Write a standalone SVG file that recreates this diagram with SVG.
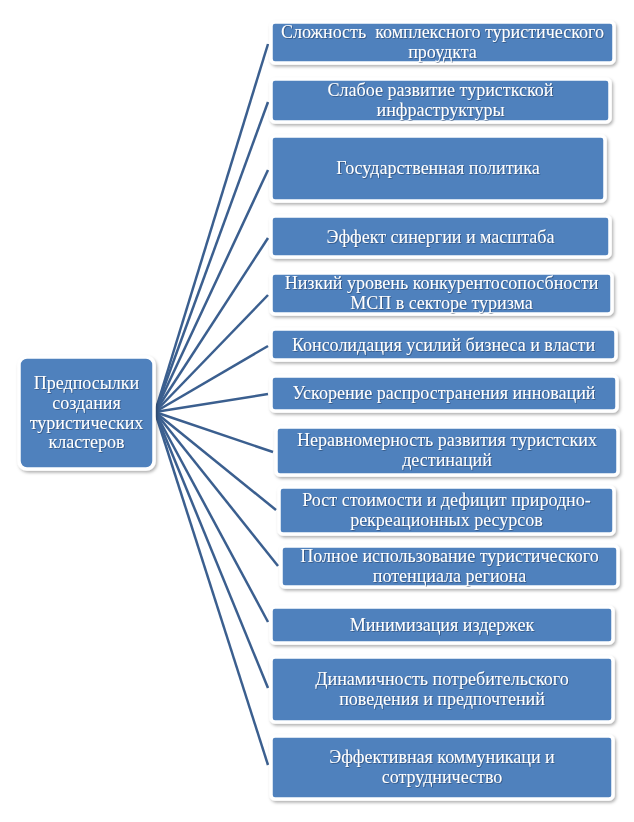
<svg xmlns="http://www.w3.org/2000/svg" width="634" height="822" viewBox="0 0 634 822">
<defs>
<filter id="sh" x="-10%" y="-20%" width="120%" height="150%">
<feDropShadow dx="1.5" dy="2" stdDeviation="1.5" flood-color="#000" flood-opacity="0.3"/>
</filter>
<filter id="ts" x="-5%" y="-20%" width="110%" height="140%">
<feDropShadow dx="0.8" dy="0.8" stdDeviation="0.6" flood-color="#1d3557" flood-opacity="0.6"/>
</filter>
</defs>
<style>
.b{fill:#4f81bd;stroke:#ffffff;stroke-width:3.5;filter:url(#sh)}
.t{fill:#ffffff;font-family:'Liberation Serif','DejaVu Serif',serif;font-size:18px;text-anchor:middle;white-space:pre;filter:url(#ts)}
.l{stroke:#3b5f8f;stroke-width:2.5;fill:none}
</style>
<rect width="634" height="822" fill="#ffffff"/>
<g id="connectors">
<line class="l" x1="155" y1="412" x2="268" y2="44"/>
<line class="l" x1="155" y1="412" x2="268" y2="102"/>
<line class="l" x1="155" y1="412" x2="268" y2="170"/>
<line class="l" x1="155" y1="412" x2="268" y2="238"/>
<line class="l" x1="155" y1="412" x2="268" y2="295"/>
<line class="l" x1="155" y1="412" x2="268" y2="346"/>
<line class="l" x1="155" y1="412" x2="268" y2="394"/>
<line class="l" x1="155" y1="412" x2="273" y2="452"/>
<line class="l" x1="155" y1="412" x2="276" y2="510"/>
<line class="l" x1="155" y1="412" x2="278" y2="566"/>
<line class="l" x1="155" y1="412" x2="268" y2="622"/>
<line class="l" x1="155" y1="412" x2="268" y2="688"/>
<line class="l" x1="155" y1="412" x2="268" y2="765"/>
</g>
<g id="center">
<rect class="b" x="19" y="357" width="135" height="112" rx="8"/>
<text class="t" x="86.5" y="389">Предпосылки</text>
<text class="t" x="86.5" y="409">создания</text>
<text class="t" x="86.5" y="429">туристических</text>
<text class="t" x="86.5" y="448">кластеров</text>
</g>
<g id="n1">
<rect class="b" x="271" y="22" width="343" height="41" rx="4"/>
<text class="t" x="442.5" y="38">Сложность  комплексного туристического</text>
<text class="t" x="442.5" y="58">проудкта</text>
</g>
<g id="n2">
<rect class="b" x="271" y="79" width="339" height="43" rx="4"/>
<text class="t" x="440.5" y="96">Слабое развитие туристкской</text>
<text class="t" x="440.5" y="116">инфраструктуры</text>
</g>
<g id="n3">
<rect class="b" x="271" y="136" width="334" height="65" rx="4"/>
<text class="t" x="438" y="174">Государственная политика</text>
</g>
<g id="n4">
<rect class="b" x="271" y="216" width="339" height="41" rx="4"/>
<text class="t" x="440.5" y="243">Эффект синергии и масштаба</text>
</g>
<g id="n5">
<rect class="b" x="271" y="273" width="341" height="41" rx="4"/>
<text class="t" x="441.5" y="289">Низкий уровень конкурентосопосбности</text>
<text class="t" x="441.5" y="309">МСП в секторе туризма</text>
</g>
<g id="n6">
<rect class="b" x="271" y="329" width="345" height="31" rx="4"/>
<text class="t" x="443.5" y="351">Консолидация усилий бизнеса и власти</text>
</g>
<g id="n7">
<rect class="b" x="271" y="376" width="346" height="35" rx="4"/>
<text class="t" x="444" y="399">Ускорение распространения инноваций</text>
</g>
<g id="n8">
<rect class="b" x="276" y="427" width="342" height="48" rx="4"/>
<text class="t" x="447" y="446">Неравномерность развития туристских</text>
<text class="t" x="447" y="466">дестинаций</text>
</g>
<g id="n9">
<rect class="b" x="279" y="487" width="335" height="47" rx="4"/>
<text class="t" x="446.5" y="506">Рост стоимости и дефицит природно-</text>
<text class="t" x="446.5" y="526">рекреационных ресурсов</text>
</g>
<g id="n10">
<rect class="b" x="281" y="546" width="337" height="41" rx="4"/>
<text class="t" x="449.5" y="562">Полное использование туристического</text>
<text class="t" x="449.5" y="582">потенциала региона</text>
</g>
<g id="n11">
<rect class="b" x="271" y="607" width="342" height="36" rx="4"/>
<text class="t" x="442" y="631">Минимизация издержек</text>
</g>
<g id="n12">
<rect class="b" x="271" y="657" width="342" height="65" rx="4"/>
<text class="t" x="442" y="685">Динамичность потребительского</text>
<text class="t" x="442" y="705">поведения и предпочтений</text>
</g>
<g id="n13">
<rect class="b" x="271" y="736" width="342" height="63" rx="4"/>
<text class="t" x="442" y="763">Эффективная коммуникаци и</text>
<text class="t" x="442" y="783">сотрудничество</text>
</g>
</svg>
